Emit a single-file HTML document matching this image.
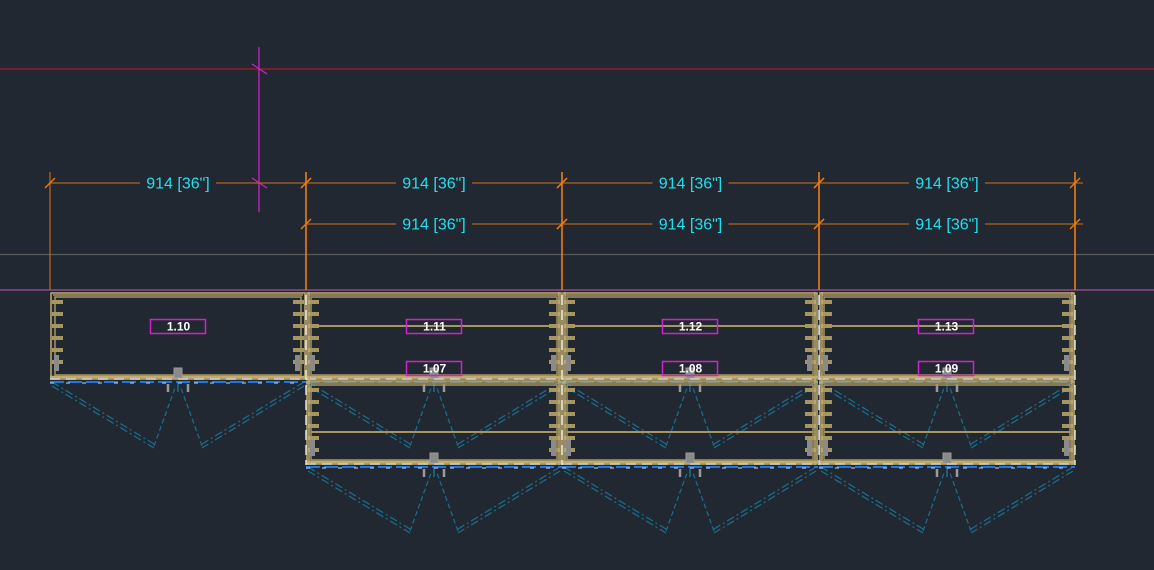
<!DOCTYPE html>
<html><head><meta charset="utf-8"><style>
html,body{margin:0;padding:0;background:#222831;}
svg{display:block}
text{font-family:"Liberation Sans",sans-serif}
</style></head><body>
<svg id="s" width="1154" height="570" viewBox="0 0 1154 570" xmlns="http://www.w3.org/2000/svg">
<rect width="1154" height="570" fill="#222831"/>
<line x1="0" y1="69" x2="1154" y2="69" stroke="#b01828" stroke-width="1.3"/>
<line x1="0" y1="254.5" x2="1154" y2="254.5" stroke="#5a5c5e" stroke-width="1.3"/>
<line x1="0" y1="290" x2="1154" y2="290" stroke="#8a4a8c" stroke-width="1.5"/>
<line x1="259" y1="47" x2="259" y2="212" stroke="#d020d0" stroke-width="1.3"/>
<line x1="252" y1="64" x2="267" y2="74" stroke="#d020d0" stroke-width="1.2"/>
<line x1="252" y1="178" x2="267" y2="188" stroke="#d020d0" stroke-width="1.2"/>
<g id="g"></g>
</svg>
<script>
const g=document.getElementById('g');let h='';
const L=(x1,y1,x2,y2,c,w,d)=>h+=`<line x1="${x1}" y1="${y1}" x2="${x2}" y2="${y2}" stroke="${c}" stroke-width="${w||1}" ${d?`stroke-dasharray="${d}"`:''}/>`;
const R=(x,y,w,hh,c,f,sw)=>h+=`<rect x="${x}" y="${y}" width="${w}" height="${hh}" fill="${f||'none'}" stroke="${c}" stroke-width="${sw||1}"/>`;
const T=(x,y,t,c,s,wt)=>h+=`<text x="${x}" y="${y}" fill="${c}" font-size="${s}" font-weight="${wt||'normal'}" text-anchor="middle">${t}</text>`;
const OR='#f07c10',DOR='#b0641c',TAN='#a89660',TAN2='#c0ac70',TEAL='#1a7090';
L(50,172,50,290,DOR,1.3);
[306,562,819,1075].forEach(x=>L(x,172,x,290,OR,1.6));
function dim(x1,x2,y){L(x1,y,x2+(x2==1075?8:0),y,DOR,1.2);L(x1-5,y+5,x1+5,y-5,OR,1.3);L(x2-5,y+5,x2+5,y-5,OR,1.3);
 const cx=(x1+x2)/2;h+=`<rect x="${cx-38}" y="${y-10}" width="76" height="20" fill="#222831"/>`;T(cx,y+5.5,'914 [36"]','#20e0f0',16);}
dim(50,306,183);dim(306,562,183);dim(562,819,183);dim(819,1075,183);
dim(306,562,224);dim(562,819,224);dim(819,1075,224);
function swing(x1,x2,y){const m=(x1+x2)/2;
 [0,4].forEach(o=>{L(x1+2,y+o,m-24,y+62+o,TEAL,1.2,'8 3 2 3');L(x2-2,y+o,m+24,y+62+o,TEAL,1.2,'8 3 2 3');});
 L(m-24,y+64,m-3,y+6,TEAL,1.2,'5 3');L(m+24,y+64,m+3,y+6,TEAL,1.2,'5 3');L(m,y,m,y+10,TEAL,1.5);}
swing(50,306,382);[306,562,819].forEach(x=>{swing(x,x+256,382);swing(x,x+256,467);});
function cab(x1,x2,y1,y2){R(x1+1,y1+1,x2-x1-2,y2-y1-2,TAN2,'none',1.5);R(x1+5,y1+5,x2-x1-10,y2-y1-10,TAN,'none',1.5);
 L(x1+3,y1+3,x2-3,y1+3,TAN,1.5);
 L(x1,y2-3,x2,y2-3,TAN2,2.5);L(x1,y2-1,x2,y2-1,'#e8e8e0',1.2,'10 6');L(x1,y2+2,x2,y2+2,'#1a78e0',2,'14 4 14 4');L(x1,y2+3,x2,y2+3,'#c8dcec',1,'4 12');
 const m=(x1+x2)/2;R(m-4,y2-12,8,10,'#999','#8a8a8a');L(m-10,y2+4,m-10,y2+12,'#9a9a9a',2.5);L(m+10,y2+4,m+10,y2+12,'#9a9a9a',2.5);
 [x1+2,x2-13].forEach(x=>{for(let yy=y1+8;yy<y2-15;yy+=12){h+=`<rect x="${x}" y="${yy}" width="11" height="4" fill="${TAN}"/>`;}
  h+=`<rect x="${x+2}" y="${y2-25}" width="5" height="16" fill="#8a8a8a"/>`;});}
cab(50,306,292,380);
[306,562,819].forEach(x=>{cab(x,x+256,292,380);cab(x,x+256,380,465);
 L(x+5,326,x+251,326,TAN,2);L(x+5,432,x+251,432,TAN,2);L(x+3,292,x+3,465,TAN2,1.5);L(x+253,292,x+253,465,TAN2,1.5);});
[306,562,819,1075].forEach(x=>L(x,295,x,465,'#e0e0d8',1.5,'10 5'));
function lab(cx,y,t){R(cx-27.5,y+0.5,55,14,'#d020d0','none',1.5);T(cx+0.5,y+11.5,t,'#ffffff',12,'bold');}
lab(178,319,'1.10');lab(434,319,'1.11');lab(690,319,'1.12');lab(946,319,'1.13');
lab(434,361,'1.07');lab(690,361,'1.08');lab(946,361,'1.09');
g.innerHTML=h;
</script>
</body></html>
